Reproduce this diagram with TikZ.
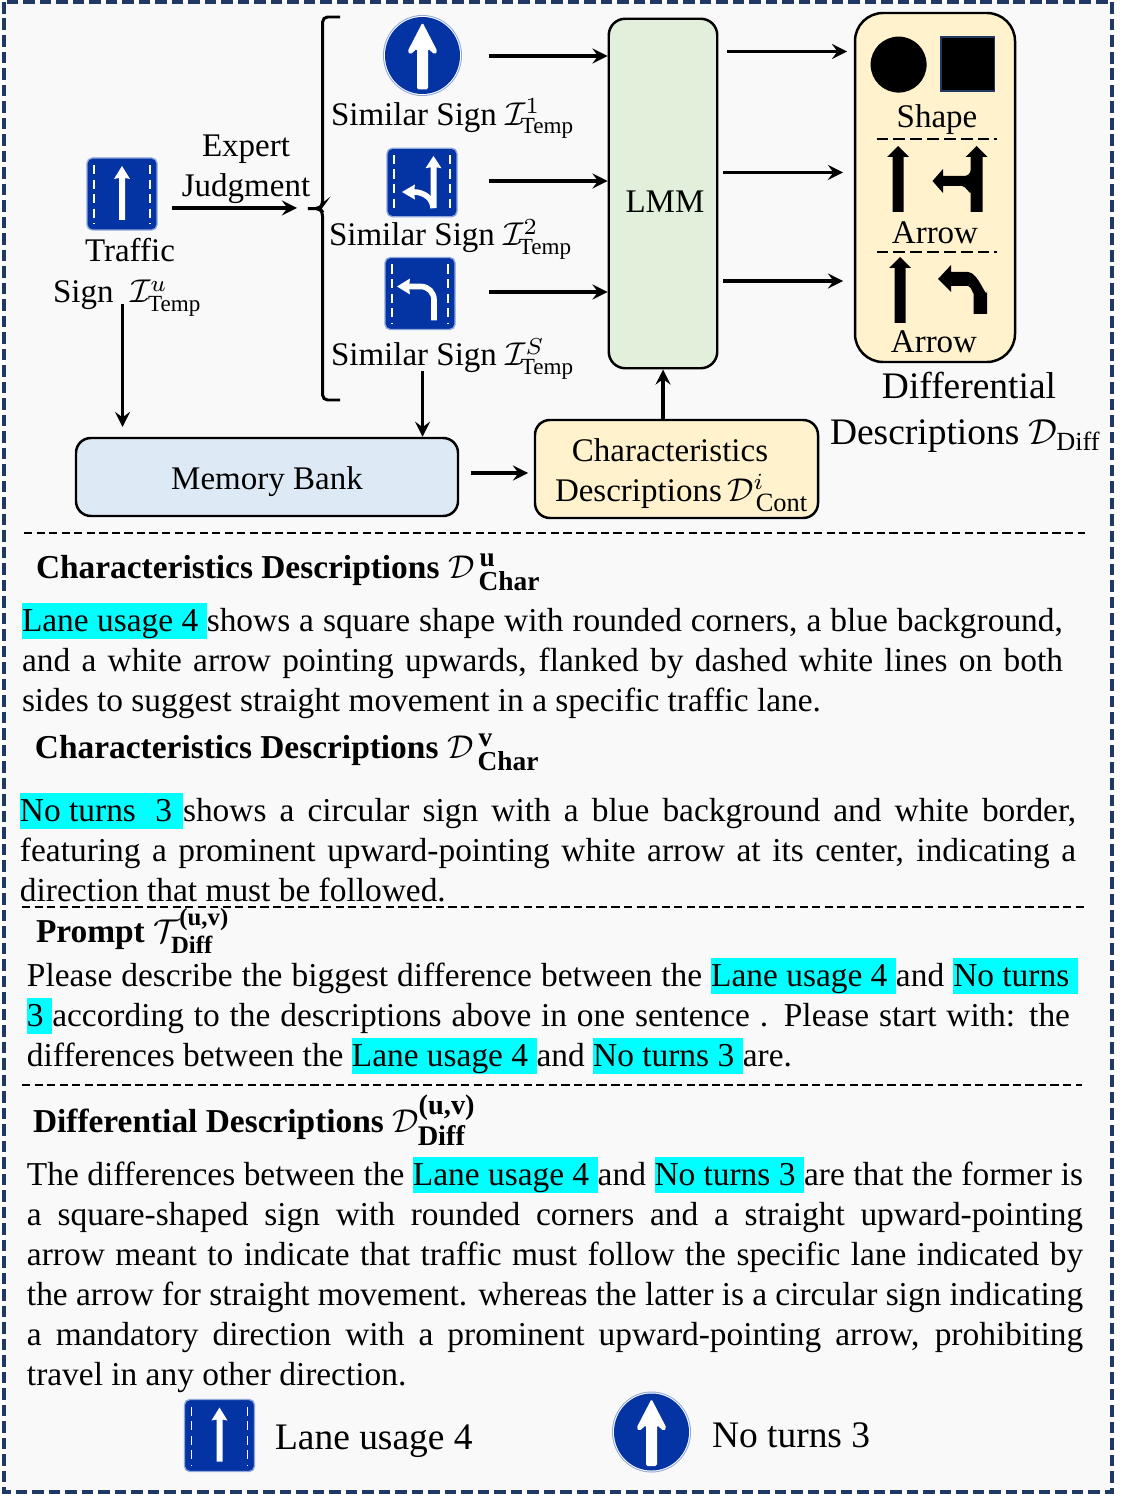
\documentclass[tikz,border=0pt]{standalone}
\usepackage{amsmath}
\usepackage{fontspec}
\setmainfont{Liberation Serif}
\definecolor{framenavy}{HTML}{1F3864}
\definecolor{paper}{HTML}{F9F9F9}
\definecolor{signblue}{HTML}{0433A3}
\definecolor{signedge}{HTML}{8FA8DC}
\definecolor{bankfill}{HTML}{DEE9F6}
\definecolor{warmfill}{HTML}{FFF2CC}
\definecolor{lmmfill}{HTML}{E2EFDA}
\definecolor{marked}{HTML}{00FFFF}
% marked words: a cyan bar behind the text, no effect on the line height
\newsavebox{\markbox}
\newcommand{\markbar}{\smash{\rlap{\textcolor{marked}{\rule[-2.5pt]{\wd\markbox}{11pt}}}}\usebox{\markbox}}
\newcommand{\marktext}[1]{\sbox{\markbox}{#1\kern2.6pt}\markbar}
\newcommand{\markwide}[2]{\sbox{\markbox}{\hbox to #1{#2\hfil}}\markbar}
% bold sub- and superscripts of the headings
\newcommand{\boldidx}[2]{\text{\raisebox{-0.6pt}{\fontsize{#1}{#1}\selectfont\bfseries #2}}}
% blue body of the square signs
\newcommand{\lanebase}{
	\draw[fill=signblue, draw=signedge, line width=0.4pt, rounded corners=1.6pt] (-35,-36) rectangle (35,36);
	\foreach \sx in {-28, 28} {
		\draw[white, line width=0.6pt, dash pattern=on 2.8pt off 1.6pt] (\sx,-29) -- (\sx,30);
	}
}
\tikzset{
	textlabel/.style={anchor=base west, inner sep=0pt, outer sep=0pt, font=\fontsize{10}{12}\selectfont},
	midlabel/.style={anchor=base, inner sep=0pt, outer sep=0pt, font=\fontsize{10}{12}\selectfont},
	biglabel/.style={anchor=base, inner sep=0pt, outer sep=0pt, font=\fontsize{11.35}{13}\selectfont},
	headlabel/.style={anchor=base west, inner sep=0pt, outer sep=0pt, font=\fontsize{10.12}{12}\selectfont\bfseries},
	paratext/.style={anchor=base west, inner sep=0pt, outer sep=0pt, align=justify, text width=#1, font=\fontsize{10.12}{12.12}\selectfont},
	boxpart/.style={draw, line width=0.75pt, rounded corners=#1, inner sep=0pt},
	link/.style={->, line width=1pt},
	sepline/.style={line width=0.55pt, dash pattern=on 2.5pt off 1.3pt},
	signspot/.style={inner sep=0pt, outer sep=0pt, minimum width=70*0.303pt, minimum height=72*0.303pt},
	pics/straightsign/.style={code={
		\lanebase
		\fill[white] (0,-28) -- (8,-15) -- (3,-16) -- (3,26) -- (-3,26) -- (-3,-16) -- (-8,-15) -- cycle;
	}},
	pics/forksign/.style={code={
		\lanebase
		\fill[white] (11.5,-28) -- (19.5,-15) -- (14.5,-16) -- (14.5,27) -- (8.5,27) -- (8.5,-16) -- (3.5,-15) -- cycle;
		\draw[white, line width=1.7pt] (-8,10) to[out=0, in=90] (11,27);
		\fill[white] (-20,10) -- (-7,2) -- (-8,10) -- (-7,18) -- cycle;
	}},
	pics/turnsign/.style={code={
		\lanebase
		\draw[white, line width=1.7pt, rounded corners=4pt] (-12,-7) -- (14,-7) -- (14,27);
		\fill[white] (-23,-7) -- (-10,-15) -- (-11,-7) -- (-10,1) -- cycle;
	}},
	pics/roundsign/.style={code={
		\fill[signedge] (0,0) ellipse [x radius=39.5, y radius=40.5];
		\fill[white] (0,0) ellipse [x radius=38.5, y radius=39.5];
		\fill[signblue] (0,0) ellipse [x radius=37.5, y radius=38.5];
		\fill[white, rounded corners=0.5pt] (0,-33) -- (15,-4) -- (12,-1) -- (5.5,-7) -- (5.5,34) -- (-5.5,34) -- (-5.5,-7) -- (-12,-1) -- (-15,-4) -- cycle;
	}}
}
\begin{document}
\begin{tikzpicture}[x=0.303pt, y=-0.303pt, >=stealth]
	\useasboundingbox (0,0) rectangle (1132,1494);
	% outer frame
	\draw[fill=paper, draw=framenavy, line width=1.2pt, dash pattern=on 3.5pt off 1.5pt] (4,2) rectangle (1112,1492);

	% left column
	\node[signspot] (tsign) at (122,194) {};
	\pic at (tsign) {straightsign};
	\node[midlabel] (tname) at (130,262) {Traffic};
	\node[textlabel] (tlabel) at (53,303) {Sign \ $\mathcal{I}^{u}_{\text{Temp}}$};
	\node[midlabel] (expert) at (246,156.5) {Expert};
	\node[midlabel] (judge) at (246,196.5) {Judgment};
	\coordinate (judgeout) at (172,208);
	\coordinate (judgein) at (297,208);
	\draw[link] (judgeout) -- (judgein);

	% bracket round the similar signs
	\draw[line width=0.9pt, rounded corners=1.5pt] (340,17) -- (322.6,17) -- (322.6,205) -- (320,208.6) -- (305,208.6) -- (320,208.6) -- (322.6,212) -- (322.6,400) -- (340,400);

	% similar signs
	\node[signspot] (simA) at (422.5,55.5) {};
	\pic at (simA) {roundsign};
	\node[textlabel] (simAlabel) at (331,125.5) {Similar Sign $\mathcal{I}^{1}_{\mkern-1.5mu\text{Temp}}$};
	\node[signspot] (simB) at (422,182.5) {};
	\pic[yscale=0.95] at (simB) {forksign};
	\node[textlabel] (simBlabel) at (329,246) {Similar Sign $\mathcal{I}^{2}_{\mkern-1.5mu\text{Temp}}$};
	\node[signspot] (simC) at (420,293.5) {};
	\pic at (simC) {turnsign};
	\node[textlabel] (simClabel) at (331,366) {Similar Sign $\mathcal{I}^{S}_{\mkern-1.5mu\text{Temp}}$};

	% main boxes
	\node[boxpart=5pt, fill=lmmfill, minimum width=108.5*0.303pt, minimum height=349.5*0.303pt] (lmm) at (663,193.5) {};
	\node[midlabel] (lmmlabel) at (665,213) {LMM};
	\node[boxpart=4.5pt, fill=bankfill, minimum width=382*0.303pt, minimum height=78*0.303pt] (memory) at (267,477) {};
	\node[midlabel] (memorylabel) at (267,489) {Memory Bank};
	\node[boxpart=4.5pt, fill=warmfill, minimum width=283*0.303pt, minimum height=98*0.303pt] (cont) at (676.5,469) {};
	\node[midlabel] (contA) at (670,461) {Characteristics};
	\node[textlabel] (contB) at (555,501) {Descriptions\,$\mathcal{D}^{i}_{\mkern2mu\text{\fontsize{8}{8}\selectfont Cont}}$};
	\node[boxpart=8.5pt, fill=warmfill, minimum width=160*0.303pt, minimum height=349*0.303pt] (diff) at (935,187.5) {};

	% arrows into and out of the LMM
	\foreach \nm/\sy/\ox/\ex/\oy in {A/56/727/847/51.5, B/181/723/843/172.4, C/292/723/843/281} {
		\coordinate (sim\nm out) at (489,\sy);
		\draw[link] (sim\nm out) -- (sim\nm out -| lmm.west);
		\coordinate (lmm\nm out) at (\ox,\oy);
		\coordinate (diff\nm in) at (\ex,\oy);
		\draw[link] (lmm\nm out) -- (diff\nm in);
	}
	\coordinate (tdown) at (122.5,304);
	\coordinate (tend) at (122.5,427);
	\draw[link] (tdown) -- (tend);
	\coordinate (simdown) at (422.5,371);
	\draw[link] (simdown) -- (simdown |- memory.north);
	\coordinate (bankout) at (471,473);
	\coordinate (contin) at (528,473);
	\draw[link] (bankout) -- (contin);
	\draw[link] (lmm.south |- cont.north) -- (lmm.south);

	% inside of the differential box
	\fill (898.6,64.6) circle [radius=28];
	\draw[fill=black, draw=framenavy, line width=0.4pt] (941,37) rectangle (994.6,91);
	\node[midlabel] (shapelabel) at (937,127.5) {Shape};
	\draw[line width=0.9pt, dash pattern=on 3.6pt off 1.5pt] (876.5,139) -- (997,139);
	\fill (898,146) -- (909,157) -- (903.5,157) -- (903.5,212) -- (892.5,212) -- (892.5,157) -- (887,157) -- cycle;
	\fill (976.6,146) -- (987.6,157) -- (982.6,157) -- (982.6,212) -- (970.6,212) -- (970.6,192) to[out=-90, in=0] (962,186) -- (943,186) -- (943,193) -- (932.5,181) -- (943,169) -- (943,176) -- (964,176) to[out=0, in=-90] (970.6,170) -- (970.6,157) -- (965.6,157) -- cycle;
	\node[midlabel] (arrowA) at (935,244) {Arrow};
	\draw[line width=0.9pt, dash pattern=on 3.6pt off 1.5pt] (876.5,252) -- (997,252);
	\fill (900,257) -- (911,268) -- (905.5,268) -- (905.5,323) -- (894.5,323) -- (894.5,268) -- (889,268) -- cycle;
	\fill (938,279) -- (951,265) -- (951,272) -- (968,272) to[out=0, in=-90] (987,291) -- (987,314) -- (973.6,314) -- (973.6,293) to[out=-90, in=0] (968,286) -- (951,286) -- (951,292) -- cycle;
	\node[midlabel] (arrowB) at (934,352) {Arrow};
	\node[biglabel] (difflabelA) at (969,399) {Differential};
	\node[biglabel, anchor=base west] (difflabelB) at (830,444.5) {Descriptions\kern2.8pt$\mathcal{D}_{\text{Diff}}$};

	% text part
	\coordinate (sepAl) at (24,533);
	\coordinate (sepAr) at (1085,533);
	\draw[sepline] (sepAl) -- (sepAr);
	\node[headlabel] (headA) at (36,578) {Characteristics Descriptions\kern2.8pt$\mathcal{D}^{\mkern3mu\boldidx{8.3}{u}}_{\mkern3mu\boldidx{8.3}{Char}}$};
	\node[paratext=315.4pt] (paraA) at (22,631) {\marktext{Lane usage 4}shows a square shape with rounded corners, a blue background,\linebreak and a white arrow pointing upwards, flanked by dashed white lines on both\linebreak sides to suggest straight movement in a specific traffic lane.};
	\node[headlabel] (headB) at (35,758) {Characteristics Descriptions\kern2.8pt$\mathcal{D}^{\mkern3mu\boldidx{8.3}{v}}_{\mkern3mu\boldidx{8.3}{Char}}$};
	\node[paratext=320pt] (paraB) at (20,821) {\markwide{49.4pt}{No turns\hfil\ 3}shows a circular sign with a blue background and white border,\linebreak featuring a prominent upward-pointing white arrow at its center, indicating a\linebreak direction that must be followed.};
	\coordinate (sepBl) at (22,907);
	\coordinate (sepBr) at (1085,907);
	\draw[sepline] (sepBl) -- (sepBr);
	\node[headlabel] (headC) at (36,942) {Prompt\kern2.5pt$\mathcal{T}^{\boldidx{7.5}{(u,v)}}_{\boldidx{7.5}{Diff}}$};
	\node[paratext=316pt] (paraC) at (27,986) {Please describe the biggest difference between the \marktext{Lane usage 4}and \marktext{No turns}\kern-2.4pt\linebreak \marktext{3}according to the descriptions above in one sentence . Please start with: the\linebreak differences between the \marktext{Lane usage 4}and \marktext{No turns 3}are.};
	\coordinate (sepCl) at (22,1085);
	\coordinate (sepCr) at (1082,1085);
	\draw[sepline] (sepCl) -- (sepCr);
	\node[headlabel] (headD) at (33,1132) {Differential Descriptions $\mathcal{D}^{\boldidx{8.6}{(u,v)}}_{\boldidx{8.6}{Diff}}$};
	\node[paratext=320pt] (paraD) at (27,1185) {The differences between the \marktext{Lane usage 4}and \marktext{No turns 3}are that the former is\linebreak a square-shaped sign with rounded corners and a straight upward-pointing\linebreak arrow meant to indicate that traffic must follow the specific lane indicated by\linebreak the arrow for straight movement. whereas the latter is a circular sign indicating\linebreak a mandatory direction with a prominent upward-pointing arrow, prohibiting\linebreak travel in any other direction.};

	% legend
	\node[signspot] (keyA) at (219.5,1435.5) {};
	\pic at (keyA) {straightsign};
	\node[biglabel, anchor=base west] (keyAlabel) at (275,1449) {Lane usage 4};
	\node[signspot] (keyB) at (651.5,1432) {};
	\pic at (keyB) {roundsign};
	\node[biglabel, anchor=base west] (keyBlabel) at (712,1447) {No turns 3};
\end{tikzpicture}
\end{document}
